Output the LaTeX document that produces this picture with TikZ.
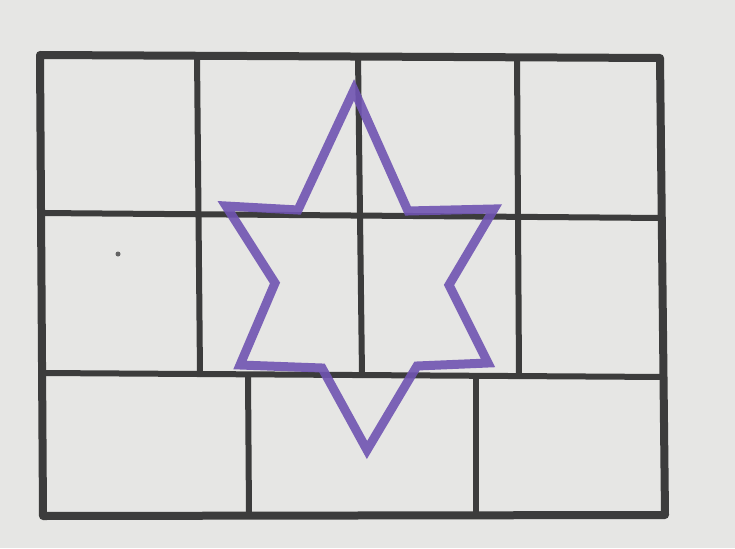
\documentclass[tikz,border=0pt]{standalone}
\begin{document}
\begin{tikzpicture}[x=1pt,y=-1pt,
  gridline/.style={draw=gridgray,line width=6pt,line cap=round},
  outerline/.style={draw=gridgray,line width=8pt,line join=round},
  starline/.style={draw=starpurple,line width=9pt,line join=miter,opacity=0.9}]
\definecolor{paper}{RGB}{230,230,228}
\definecolor{gridgray}{RGB}{60,60,60}
\definecolor{starpurple}{RGB}{112,84,178}
\fill[paper] (0,0) rectangle (735,548);
\useasboundingbox (0,0) rectangle (735,548);
% outer frame
\draw[outerline] (40,55) -- (660,58) -- (665,515) -- (43,516) -- cycle;
% horizontal lines
\draw[gridline] (40,213) -- (662,218);
\draw[gridline] (42,373) -- (664,377);
% vertical lines, top two rows
\draw[gridline] (197,55) -- (200,374);
\draw[gridline] (358,56) -- (362,375);
\draw[gridline] (517,57) -- (519,376);
% vertical lines, bottom row
\draw[gridline] (248,375) -- (249,516);
\draw[gridline] (476,377) -- (476,515);
% star
\draw[starline] (354,90) -- (298,210) -- (226,206) -- (275,283) -- (240,365)
  -- (322,368) -- (367,450) -- (417,366) -- (488,363) -- (449,285)
  -- (494,209) -- (408,211) -- cycle;
% small dot
\fill[gridgray!80] (118,254) circle (2.5pt);
\end{tikzpicture}
\end{document}
